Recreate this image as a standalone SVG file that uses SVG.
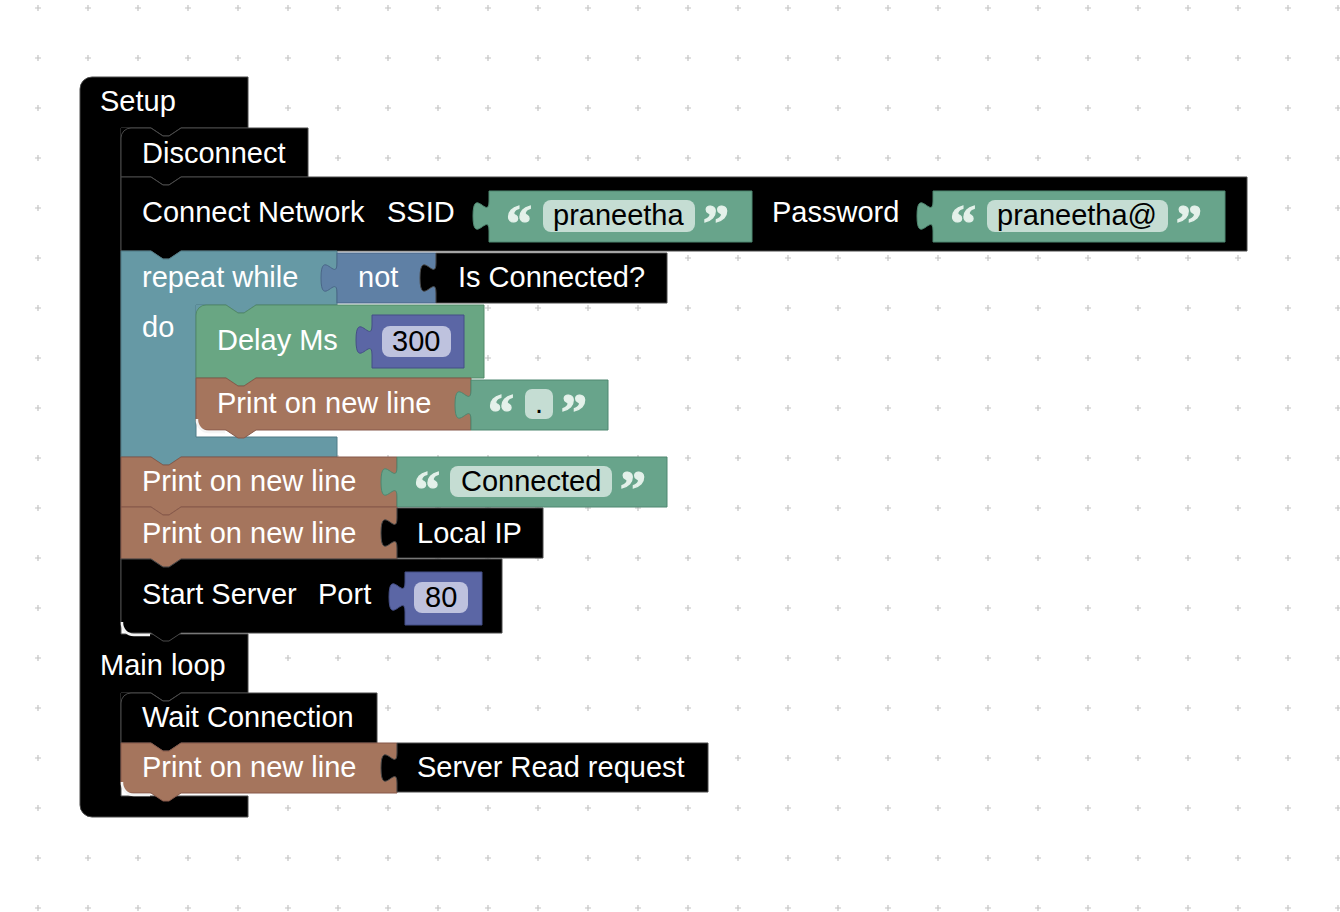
<svg xmlns="http://www.w3.org/2000/svg" width="1340" height="912" viewBox="0 0 1340 912">
<style>
.lbl{font-family:"Liberation Sans",Arial,Helvetica,sans-serif;font-size:29px;fill:#ffffff}
.fld{font-family:"Liberation Sans",Arial,Helvetica,sans-serif;font-size:29px;fill:#000000}
.q{font-family:"Liberation Serif","Times New Roman",serif;font-weight:bold;font-size:52px;fill:#e4f1ea;stroke:#e4f1ea;stroke-width:1.2}
.blk{fill:#000000;stroke:#4a4a4a;stroke-width:1}
.loop{fill:#6699a5;stroke:#4f7b86;stroke-width:1}
.logic{fill:#5f80a5;stroke:#4a6688;stroke-width:1}
.math{fill:#5b66a5;stroke:#454f86;stroke-width:1}
.text{fill:#68a48b;stroke:#4f8770;stroke-width:1}
.delay{fill:#69a683;stroke:#528a69;stroke-width:1}
.print{fill:#a5755d;stroke:#86594a;stroke-width:1}
.tf{fill:#c5ddd3}
.nf{fill:#bec2de}
.hl{fill:none;stroke:#f4f4f4;stroke-width:2.5}
</style>
<defs>
<pattern id="grid" x="13" y="-17" width="50" height="50" patternUnits="userSpaceOnUse">
<path d="M22,25 H28 M25,22 V28" stroke="#c4c4c4" stroke-width="1.2"/>
</pattern>
</defs>
<rect width="1340" height="912" fill="#ffffff"/>
<rect width="1340" height="912" fill="url(#grid)"/>

<g id="setup">
<path class="blk" d="M80,89 a12,12 0 0 1 12,-12 H248 V128 H181 l-12,8 h-6 l-12,-8 H121 V634 H248 V693 H181 l-12,8 h-6 l-12,-8 H121 V796 H248 V817 H92 a12,12 0 0 1 -12,-12 Z"/>
<rect x="121" y="128" width="11" height="11" fill="#000000"/>
<rect x="121" y="693" width="11" height="11" fill="#000000"/>
<text class="lbl" x="100" y="111">Setup</text>
<text class="lbl" x="100" y="675">Main loop</text>
</g>

<g id="disconnect">
<path class="blk" d="M121,138 a10,10 0 0 1 10,-10 H151 l12,8 h6 l12,-8 H308 V177 H181 l-12,8 h-6 l-12,-8 H121 Z"/>
<text class="lbl" x="142" y="163">Disconnect</text>
</g>

<g id="connect-network">
<path class="blk" d="M121,177 H151 l12,8 h6 l12,-8 H1247 V251 H181 l-12,8 h-6 l-12,-8 H121 Z"/>
<text class="lbl" x="142" y="222">Connect Network</text>
<text class="lbl" x="387" y="222">SSID</text>
<text class="lbl" x="772" y="222">Password</text>
</g>

<g id="ssid-text">
<path class="text" d="M489,191 H752 V242 H489 V231 c0,-20 -16,16 -16,-15 s16,5 16,-15 Z"/>
<text class="q" x="506" y="241">“</text>
<rect class="tf" x="543" y="200" width="152" height="32" rx="8"/>
<text class="fld" x="553" y="225">praneetha</text>
<text class="q" x="703" y="241">”</text>
</g>

<g id="password-text">
<path class="text" d="M933,191 H1225 V242 H933 V231 c0,-20 -16,16 -16,-15 s16,5 16,-15 Z"/>
<text class="q" x="950" y="241">“</text>
<rect class="tf" x="987" y="200" width="181" height="32" rx="8"/>
<text class="fld" x="997" y="225">praneetha@</text>
<text class="q" x="1176" y="241">”</text>
</g>

<g id="repeat-while">
<path class="loop" d="M121,251 H151 l12,8 h6 l12,-8 H337 V305 H256 l-12,8 h-6 l-12,-8 H196 V437 H337 V457 H181 l-12,8 h-6 l-12,-8 H121 Z"/>
<rect x="196" y="305" width="11" height="11" fill="#6699a5"/>
<text class="lbl" x="142" y="287">repeat while</text>
<text class="lbl" x="142" y="337">do</text>
</g>

<g id="not">
<path class="logic" d="M337,253 H436 V303 H337 V293 c0,-20 -16,16 -16,-15 s16,5 16,-15 Z"/>
<text class="lbl" x="358" y="287">not</text>
</g>

<g id="is-connected">
<path class="blk" d="M436,253 H667 V303 H436 V293 c0,-20 -16,16 -16,-15 s16,5 16,-15 Z"/>
<text class="lbl" x="458" y="287">Is Connected?</text>
</g>

<g id="delay-ms">
<path class="delay" d="M196,315 a10,10 0 0 1 10,-10 H226 l12,8 h6 l12,-8 H484 V378 H256 l-12,8 h-6 l-12,-8 H196 Z"/>
<text class="lbl" x="217" y="350">Delay Ms</text>
</g>

<g id="num-300">
<path class="math" d="M372,315 H464 V368 H372 V355 c0,-20 -16,16 -16,-15 s16,5 16,-15 Z"/>
<rect class="nf" x="382" y="326" width="69" height="31" rx="8"/>
<text class="fld" x="392" y="351">300</text>
</g>

<g id="print-dot">
<path class="print" d="M196,378 H226 l12,8 h6 l12,-8 H471 V430 H256 l-12,8 h-6 l-12,-8 H206 a10,10 0 0 1 -10,-10 Z"/>
<text class="lbl" x="217" y="413">Print on new line</text>
</g>

<g id="dot-text">
<path class="text" d="M471,380 H608 V430 H471 V420 c0,-20 -16,16 -16,-15 s16,5 16,-15 Z"/>
<text class="q" x="488" y="430">“</text>
<rect class="tf" x="525" y="389" width="28" height="30" rx="7"/>
<text class="fld" x="535" y="413">.</text>
<text class="q" x="561" y="430">”</text>
</g>

<g id="print-connected">
<path class="print" d="M121,457 H151 l12,8 h6 l12,-8 H397 V507 H181 l-12,8 h-6 l-12,-8 H121 Z"/>
<text class="lbl" x="142" y="491">Print on new line</text>
</g>

<g id="connected-text">
<path class="text" d="M397,457 H667 V507 H397 V497 c0,-20 -16,16 -16,-15 s16,5 16,-15 Z"/>
<text class="q" x="414" y="507">“</text>
<rect class="tf" x="450" y="466" width="162" height="31" rx="8"/>
<text class="fld" x="461" y="491">Connected</text>
<text class="q" x="620" y="507">”</text>
</g>

<g id="print-local-ip">
<path class="print" d="M121,507 H151 l12,8 h6 l12,-8 H397 V559 H181 l-12,8 h-6 l-12,-8 H121 Z"/>
<text class="lbl" x="142" y="543">Print on new line</text>
</g>

<g id="local-ip">
<path class="blk" d="M397,508 H543 V558 H397 V548 c0,-20 -16,16 -16,-15 s16,5 16,-15 Z"/>
<text class="lbl" x="417" y="543">Local IP</text>
</g>

<g id="start-server">
<path class="blk" d="M121,559 H151 l12,8 h6 l12,-8 H502 V633 H181 l-12,8 h-6 l-12,-8 H131 a10,10 0 0 1 -10,-10 Z"/>
<text class="lbl" x="142" y="604">Start Server</text>
<text class="lbl" x="318" y="604">Port</text>
</g>

<g id="num-80">
<path class="math" d="M405,572 H482 V625 H405 V612 c0,-20 -16,16 -16,-15 s16,5 16,-15 Z"/>
<rect class="nf" x="414" y="582" width="54" height="31" rx="8"/>
<text class="fld" x="425" y="607">80</text>
</g>

<g id="wait-connection">
<path class="blk" d="M121,703 a10,10 0 0 1 10,-10 H151 l12,8 h6 l12,-8 H377 V743 H181 l-12,8 h-6 l-12,-8 H121 Z"/>
<text class="lbl" x="142" y="727">Wait Connection</text>
</g>

<g id="print-request">
<path class="print" d="M121,743 H151 l12,8 h6 l12,-8 H397 V793 H181 l-12,8 h-6 l-12,-8 H131 a10,10 0 0 1 -10,-10 Z"/>
<text class="lbl" x="142" y="777">Print on new line</text>
</g>

<g id="server-read-request">
<path class="blk" d="M397,743 H708 V792 H397 V783 c0,-20 -16,16 -16,-15 s16,5 16,-15 Z"/>
<text class="lbl" x="417" y="777">Server Read request</text>
</g>

<g id="connectors">
<path class="hl" d="M122,622 a12,12 0 0 0 12,13 H150"/>
<path class="hl" d="M197,419 a12,12 0 0 0 12,13 H225"/>
<path class="hl" d="M122,782 a12,12 0 0 0 12,13 H150"/>
</g>
</svg>
